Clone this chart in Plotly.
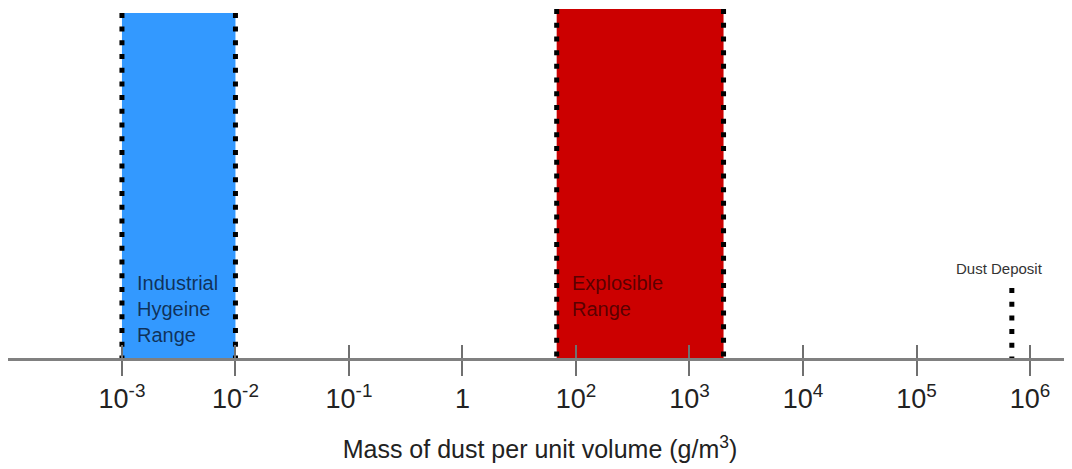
import plotly.graph_objects as go

# Axis ticks (evenly spaced positions, labels as printed in the source)
tick_labels = ["10<sup>-3</sup>", "10<sup>-2</sup>", "10<sup>-1</sup>", "1",
               "10<sup>2</sup>", "10<sup>3</sup>", "10<sup>4</sup>",
               "10<sup>5</sup>", "10<sup>6</sup>"]
tick_pos = list(range(len(tick_labels)))

# Ranges (in axis-position units) and their heights
range_names = ["Industrial<br>Hygeine<br>Range", "Explosible<br>Range"]
range_start = [0.0, 3.83]
range_end = [1.0, 5.30]
range_height = [0.986, 0.997]
range_colors = ["#3399ff", "#cc0000"]
range_text_colors = ["rgba(10,30,60,0.85)", "rgba(70,0,0,0.85)"]

# Dust deposit marker
deposit_pos = 7.84
deposit_height = 0.20
deposit_label = "Dust Deposit"

fig = go.Figure()

dot = "5px,8.7px"
for x0, x1, h, c in zip(range_start, range_end, range_height, range_colors):
    fig.add_trace(go.Scatter(x=[x0, x0, x1, x1, x0], y=[0, h, h, 0, 0],
                             fill="toself", fillcolor=c, mode="lines",
                             line=dict(width=0, color=c), hoverinfo="skip",
                             showlegend=False))
    for xe in (x0, x1):
        fig.add_trace(go.Scatter(x=[xe, xe], y=[h, 0], mode="lines",
                                 line=dict(color="black", width=5, dash=dot),
                                 hoverinfo="skip", showlegend=False))

fig.add_trace(go.Scatter(x=[deposit_pos, deposit_pos], y=[deposit_height, 0],
                         mode="lines",
                         line=dict(color="black", width=5, dash=dot),
                         hoverinfo="skip", showlegend=False))

# invisible trace for the overlay axis (upward tick halves)
fig.add_trace(go.Scatter(x=[tick_pos[0]], y=[0], xaxis="x2", mode="markers",
                         marker=dict(opacity=0), hoverinfo="skip",
                         showlegend=False))

for name, x0, tc in zip(range_names, range_start, range_text_colors):
    nlines = name.count("<br>") + 1
    fig.add_annotation(x=x0 + 0.115, y=0.14 if nlines == 3 else 0.177,
                       text=name, showarrow=False, xanchor="left",
                       yanchor="middle", align="left",
                       font=dict(family="Liberation Sans, Arial", size=20,
                                 color=tc))

fig.add_annotation(x=deposit_pos - 0.11, y=deposit_height + 0.057,
                   text=deposit_label, showarrow=False, xanchor="center",
                   yanchor="middle",
                   font=dict(family="Liberation Sans, Arial", size=15,
                             color="#333333"))

xr = [-1.004, 8.37]
fig.update_layout(
    width=1064, height=461,
    margin=dict(l=0, r=0, t=0, b=111),
    plot_bgcolor="white", paper_bgcolor="white",
    font=dict(family="Liberation Sans, Arial", color="#222222"),
    xaxis=dict(range=xr, tickvals=tick_pos, ticktext=tick_labels,
               showline=True, linecolor="#808080", linewidth=2.5,
               ticks="outside", ticklen=15, tickwidth=2, tickcolor="#707070",
               showgrid=False, zeroline=False, automargin=False,
               tickfont=dict(size=27, color="#222222"),
               title=dict(text="Mass of dust per unit volume (g/m<sup>3</sup>)",
                          font=dict(size=25, color="#222222"), standoff=28)),
    xaxis2=dict(range=xr, overlaying="x", anchor="y", side="bottom",
                tickvals=tick_pos, showticklabels=False, ticks="inside",
                ticklen=13, tickwidth=2, tickcolor="#707070",
                showgrid=False, zeroline=False, showline=False),
    yaxis=dict(range=[0, 1], visible=False, showgrid=False, zeroline=False),
)

fig.write_html("out.html")
